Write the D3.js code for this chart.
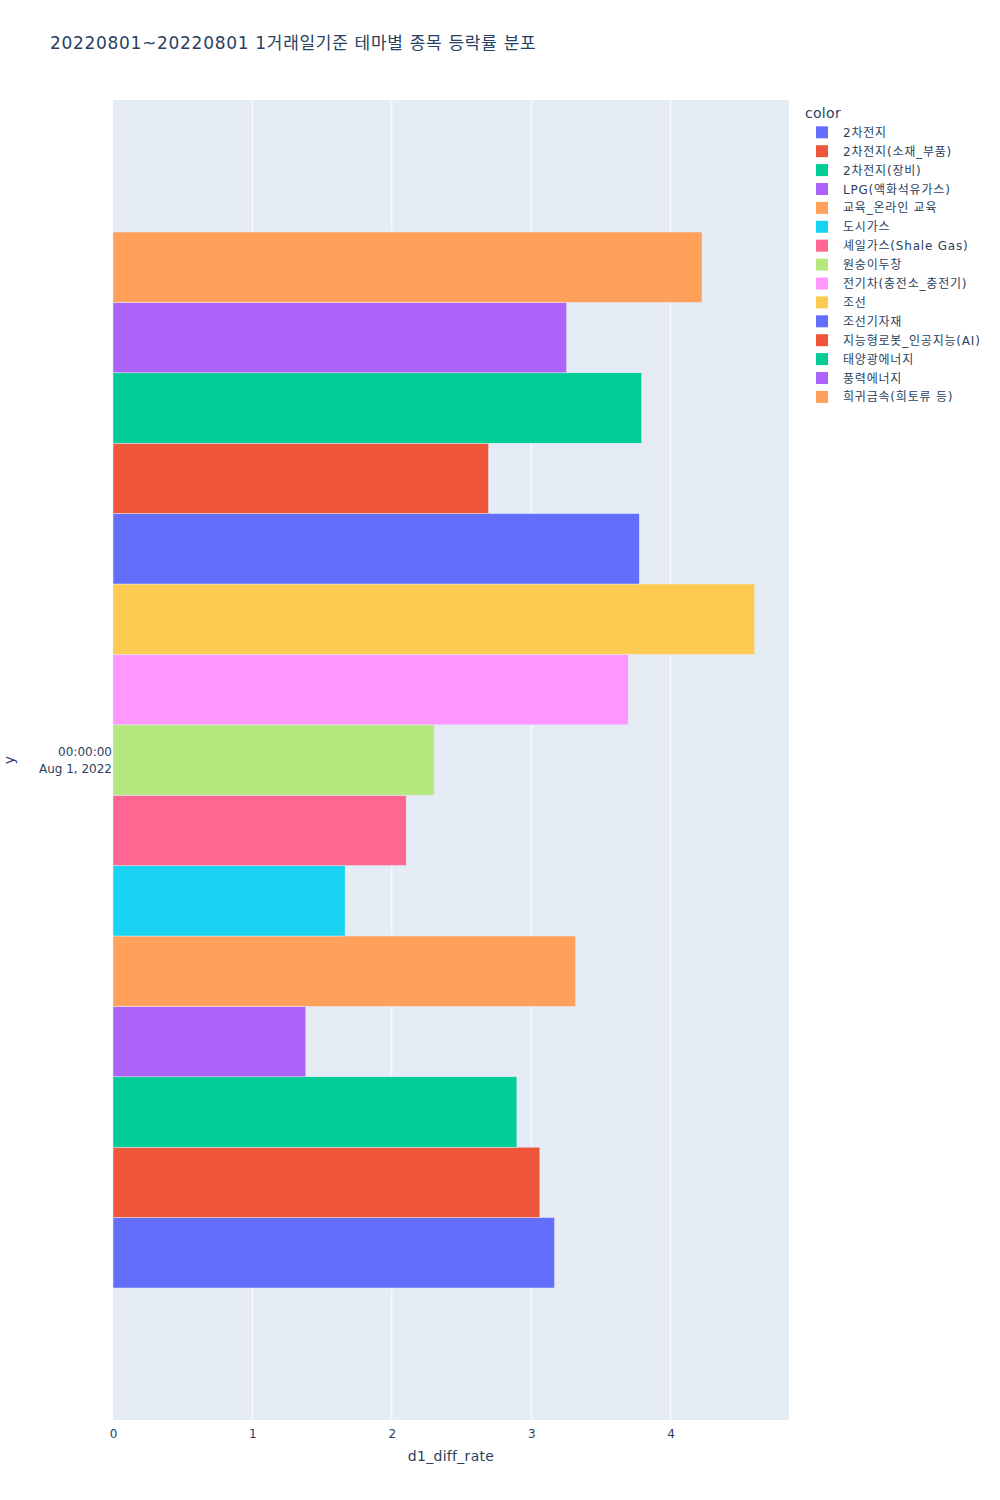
<!DOCTYPE html>
<html>
<head>
<meta charset="utf-8">
<script src="https://cdn.jsdelivr.net/npm/d3@7"></script>
<style>
    body { margin: 0; background: #fff; }
    svg text { font-family: "DejaVu Sans", "Noto Sans CJK KR", sans-serif; fill: #2a3f5f; }
</style>
</head>
<body>
<div id="chart"></div>
<script>
// Themes, in legend order (first one is drawn at the bottom of the group)
const themes = [
    '2차전지', '2차전지(소재_부품)', '2차전지(장비)', 'LPG(액화석유가스)', '교육_온라인 교육',
    '도시가스', '셰일가스(Shale Gas)', '원숭이두창', '전기차(충전소_충전기)', '조선',
    '조선기자재', '지능형로봇_인공지능(AI)', '태양광에너지', '풍력에너지', '희귀금속(희토류 등)'
];
const diffRate = [
    3.167, 3.062, 2.897, 1.383, 3.318,
    1.665, 2.103, 2.304, 3.696, 4.603,
    3.775, 2.694, 3.792, 3.254, 4.225
];
const dates = ['2022-08-01'];
const dateLabels = ['00:00:00', 'Aug 1, 2022'];
const xTicks = [0, 1, 2, 3, 4];
const xMax = 4.849;
const palette = ['#636efa', '#EF553B', '#00cc96', '#ab63fa', '#FFA15A',
                 '#19d3f3', '#FF6692', '#B6E880', '#FF97FF', '#FECB52'];

const W = 1000, H = 1500;
const margin = { top: 100, right: 211, bottom: 80, left: 113 };
const width = W - margin.left - margin.right;
const height = H - margin.top - margin.bottom;

const svg = d3.select('#chart').append('svg')
    .attr('width', W)
    .attr('height', H);

// Title
svg.append('text')
    .attr('x', 50)
    .attr('y', 49)
    .style('font-size', '17px')
    .style('letter-spacing', '0.7px')
    .text('20220801~20220801 1거래일기준 테마별 종목 등락률 분포');

const g = svg.append('g')
    .attr('transform', `translate(${margin.left},${margin.top})`);

// Scales
const x = d3.scaleLinear().domain([0, xMax]).range([0, width]);
const yDate = d3.scaleBand().domain(dates).range([0, height])
    .paddingInner(0.2).paddingOuter(0.1);
const yTheme = d3.scaleBand().domain(themes.slice().reverse())
    .range([0, yDate.bandwidth()]);
const color = d3.scaleOrdinal().domain(themes).range(palette);

// Plot background
g.append('rect')
    .attr('width', width)
    .attr('height', height)
    .attr('fill', '#E5ECF6');

// Vertical grid lines
g.selectAll('.grid')
    .data(xTicks.filter(d => d > 0))
    .enter()
    .append('line')
    .attr('x1', d => x(d))
    .attr('x2', d => x(d))
    .attr('y1', 0)
    .attr('y2', height)
    .attr('stroke', '#fff')
    .attr('stroke-width', 1);

// Bars
const rows = themes.map((t, i) => ({ theme: t, value: diffRate[i], date: dates[0] }));
g.selectAll('.bar')
    .data(rows)
    .enter()
    .append('rect')
    .attr('x', x(0))
    .attr('y', d => yDate(d.date) + yTheme(d.theme))
    .attr('width', d => x(d.value) - x(0))
    .attr('height', yTheme.bandwidth())
    .attr('fill', d => color(d.theme))
    .attr('stroke', '#E5ECF6')
    .attr('stroke-width', 0.5);

// X axis
const xAxis = g.append('g')
    .attr('transform', `translate(0,${height})`)
    .call(d3.axisBottom(x).tickValues(xTicks).tickSize(0).tickPadding(9).tickFormat(d3.format('d')));
xAxis.select('.domain').remove();
xAxis.selectAll('text')
    .style('font-size', '12px')
    .style('font-family', '"DejaVu Sans", sans-serif')
    .attr('fill', '#2a3f5f');

svg.append('text')
    .attr('x', margin.left + width / 2)
    .attr('y', 1461)
    .attr('text-anchor', 'middle')
    .style('font-size', '14px')
    .style('letter-spacing', '0.3px')
    .text('d1_diff_rate');

// Y axis: single date category, two-line label
const yMid = margin.top + yDate(dates[0]) + yDate.bandwidth() / 2;
const yLabel = svg.append('text')
    .attr('text-anchor', 'end')
    .style('font-size', '12px');
dateLabels.forEach((t, i) => {
    yLabel.append('tspan')
        .attr('x', margin.left - 1)
        .attr('y', yMid - 4 + i * 17)
        .text(t);
});

svg.append('text')
    .attr('transform', `translate(14,${yMid}) rotate(-90)`)
    .attr('text-anchor', 'middle')
    .style('font-size', '14px')
    .text('y');

// Legend
const legend = svg.append('g').attr('transform', 'translate(805,0)');
legend.append('text')
    .attr('x', 0)
    .attr('y', 118)
    .style('font-size', '14px')
    .style('letter-spacing', '0.3px')
    .text('color');

const items = legend.selectAll('.item')
    .data(themes)
    .enter()
    .append('g')
    .attr('transform', (d, i) => `translate(0,${132.3 + i * 18.9})`);
items.append('rect')
    .attr('x', 11)
    .attr('y', -6)
    .attr('width', 12)
    .attr('height', 12)
    .attr('fill', d => color(d));
items.append('text')
    .attr('x', 38)
    .attr('y', 4.5)
    .style('font-size', '12px')
    .style('letter-spacing', '0.8px')
    .text(d => d);
</script>
</body>
</html>
